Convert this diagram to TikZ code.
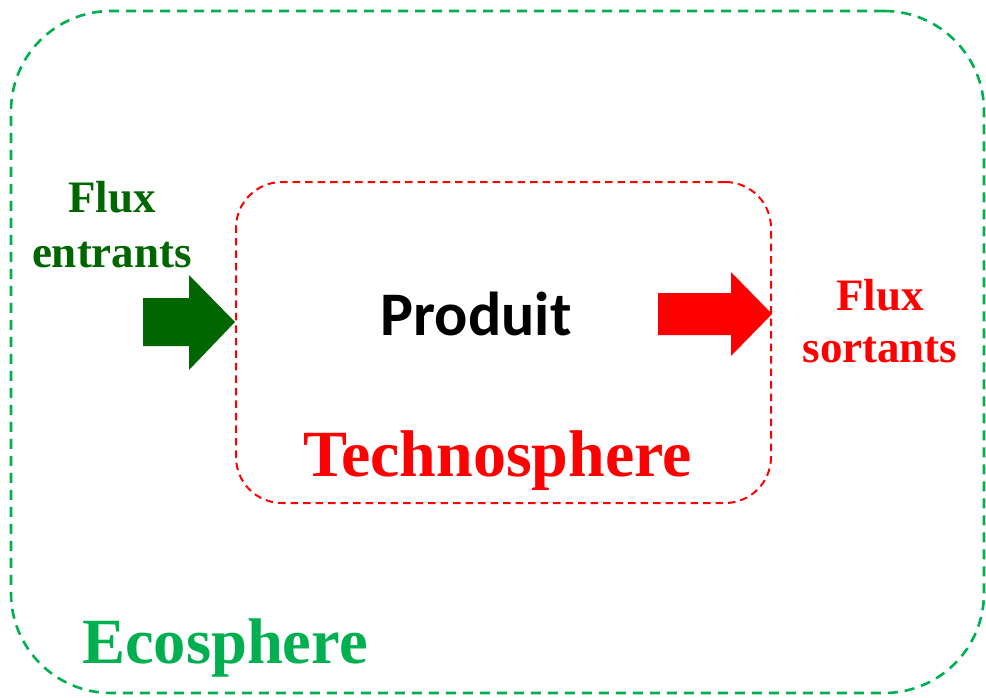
\documentclass[tikz,border=0pt]{standalone}
\usepackage{fontspec}
\setmainfont{Liberation Serif}
\newfontfamily\labelsans{Carlito}
\definecolor{ecogreen}{HTML}{00B050}
\definecolor{darkgreen}{HTML}{006600}
\definecolor{techred}{HTML}{FF0000}
\tikzset{
  ecobox/.style={draw=ecogreen, line width=2.6pt, dash pattern=on 10pt off 7pt,
    rounded corners=100pt, minimum width=973pt, minimum height=682pt, inner sep=0pt},
  techbox/.style={draw=techred, line width=2pt, dash pattern=on 7.5pt off 5pt,
    rounded corners=46pt, minimum width=535pt, minimum height=321pt, inner sep=0pt},
  fluxlabel/.style={font=\bfseries\fontsize{45}{50}\selectfont, anchor=base, inner sep=0pt},
  bigtitle/.style={anchor=base west, inner sep=0pt},
}
\begin{document}
\begin{tikzpicture}[x=1pt, y=-1pt]
  \useasboundingbox (0,0) rectangle (986,697);
  % outer and inner spheres
  \node[ecobox] (eco) at (497.5,352) {};
  \node[techbox] (tech) at (503.5,342.5) {};
  % block arrows
  \fill[darkgreen] (143,298) -- (189,298) -- (189,275) -- (235,322)
        -- (189,370) -- (189,346) -- (143,346) -- cycle;
  \fill[techred] (658,293) -- (731,293) -- (731,272) -- (772,314)
        -- (731,356) -- (731,335) -- (658,335) -- cycle;
  % labels
  \node[fluxlabel, text=darkgreen] (inA) at (112,212) {Flux};
  \node[fluxlabel, text=darkgreen] (inB) at (112,267) {entrants};
  \node[fluxlabel, text=techred] (outA) at (880,310) {Flux};
  \node[fluxlabel, text=techred] (outB) at (880,362) {sortants};
  \node[anchor=base, inner sep=0pt, font=\labelsans\bfseries\fontsize{62}{70}\selectfont] (prod) at (476,335) {Produit};
  \node[bigtitle, text=techred, font=\bfseries\fontsize{66}{72}\selectfont] (technos) at (303,476) {Technosphere};
  \node[bigtitle, text=ecogreen, font=\bfseries\fontsize{64.5}{70}\selectfont] (ecos) at (82,663) {Ecosphere};
\end{tikzpicture}
\end{document}
